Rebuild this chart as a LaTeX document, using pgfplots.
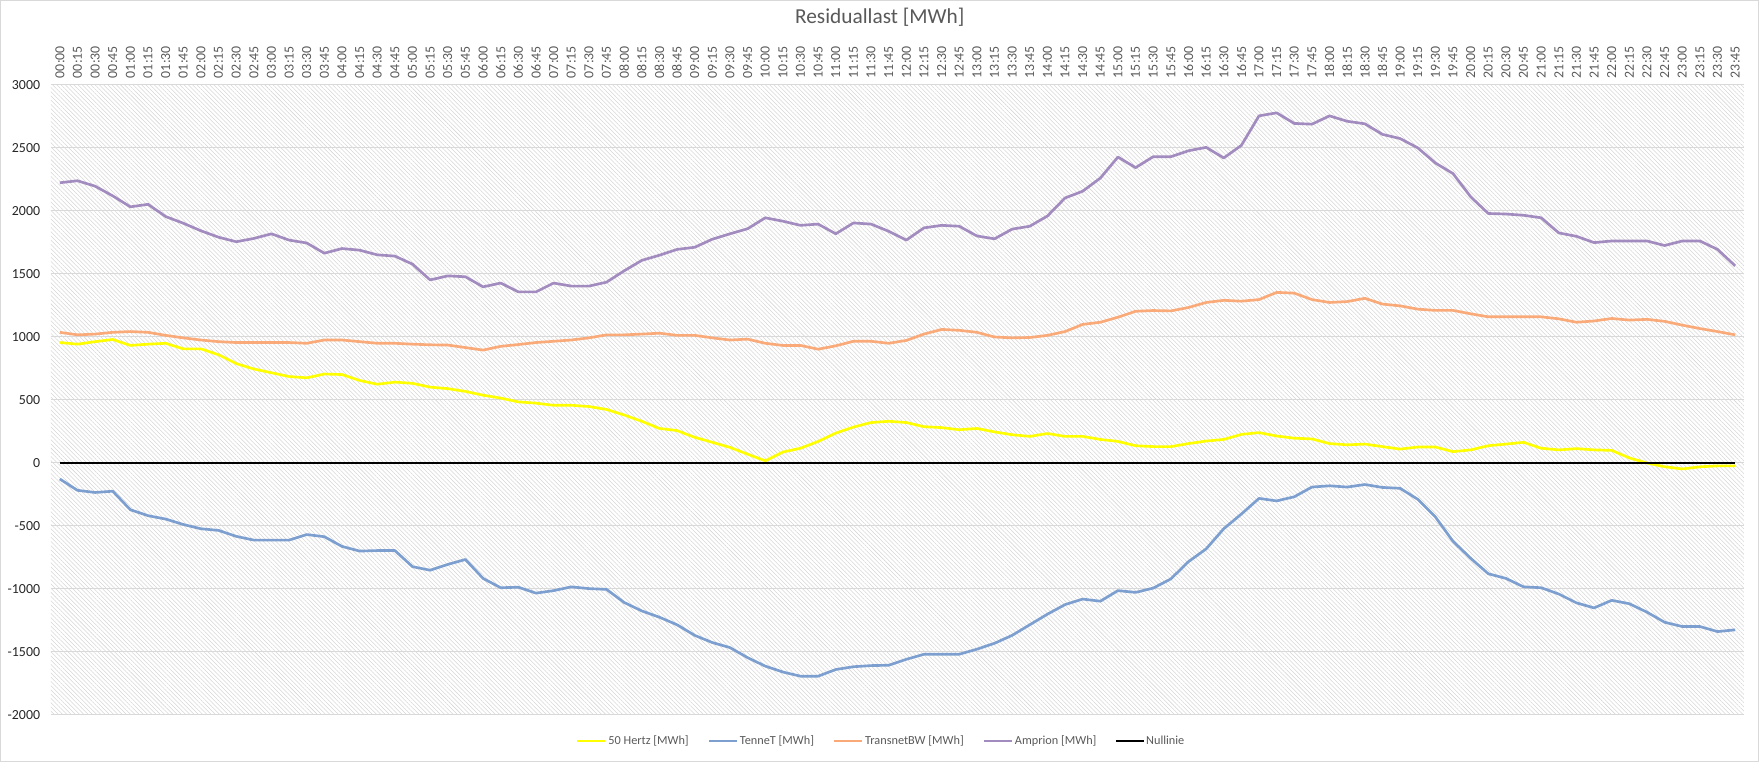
\documentclass[border=0pt]{standalone}
\usepackage{fontspec}
\setmainfont{Carlito}
\usepackage{pgfplots}
\pgfplotsset{compat=1.18}
\usepackage{pgfplotstable}
\usetikzlibrary{patterns.meta}
\definecolor{hertz}{RGB}{255,255,0}
\definecolor{tennet}{RGB}{124,159,208}
\definecolor{transnet}{RGB}{250,170,120}
\definecolor{amprion}{RGB}{162,139,190}
\definecolor{txt}{RGB}{89,89,89}
\definecolor{gridc}{RGB}{217,217,217}

\pgfplotstableread{
i h t tb a
0 956 -127 1037 2224
1 943 -217 1017 2240
2 963 -234 1023 2197
3 980 -224 1037 2120
4 933 -371 1043 2033
5 943 -418 1037 2053
6 950 -445 1013 1956
7 906 -488 993 1903
8 906 -522 976 1843
9 859 -535 963 1792
10 789 -582 956 1756
11 746 -612 956 1782
12 716 -612 956 1819
13 686 -612 956 1769
14 676 -568 950 1746
15 706 -585 976 1665
16 702 -662 976 1702
17 655 -699 963 1689
18 625 -695 950 1652
19 642 -695 950 1642
20 632 -823 943 1578
21 602 -851 938 1453
22 590 -805 936 1485
23 568 -766 916 1478
24 538 -916 896 1398
25 515 -990 926 1428
26 485 -986 940 1358
27 475 -1033 956 1358
28 458 -1013 966 1428
29 458 -983 976 1404
30 448 -997 993 1404
31 425 -1003 1017 1435
32 381 -1107 1017 1525
33 331 -1174 1023 1608
34 274 -1224 1030 1649
35 257 -1284 1013 1695
36 204 -1368 1013 1712
37 164 -1425 993 1776
38 124 -1465 976 1819
39 70 -1545 983 1859
40 17 -1612 950 1946
41 87 -1659 933 1919
42 117 -1692 933 1886
43 171 -1692 903 1896
44 237 -1639 930 1819
45 285 -1617 966 1905
46 321 -1608 966 1896
47 331 -1605 950 1839
48 321 -1558 973 1769
49 288 -1518 1023 1866
50 281 -1518 1060 1886
51 264 -1518 1053 1879
52 274 -1478 1037 1802
53 247 -1431 1000 1779
54 224 -1368 993 1856
55 211 -1284 996 1879
56 234 -1200 1013 1960
57 211 -1124 1043 2103
58 211 -1080 1100 2157
59 187 -1097 1117 2261
60 171 -1013 1157 2428
61 137 -1027 1204 2344
62 130 -993 1210 2431
63 130 -920 1207 2431
64 154 -783 1234 2478
65 174 -682 1274 2505
66 187 -522 1291 2421
67 227 -405 1284 2521
68 241 -281 1297 2755
69 214 -301 1354 2779
70 197 -268 1348 2695
71 191 -191 1297 2689
72 154 -181 1274 2755
73 144 -191 1281 2712
74 150 -171 1307 2692
75 130 -194 1261 2608
76 110 -201 1247 2575
77 127 -288 1221 2501
78 127 -428 1211 2381
79 90 -622 1211 2297
80 104 -756 1184 2113
81 137 -879 1160 1980
82 150 -916 1160 1976
83 164 -983 1160 1966
84 117 -990 1160 1946
85 104 -1040 1144 1826
86 114 -1110 1117 1799
87 104 -1150 1127 1749
88 100 -1090 1147 1762
89 40 -1117 1134 1762
90 0 -1184 1140 1762
91 -30 -1264 1124 1726
92 -47 -1298 1094 1762
93 -30 -1298 1067 1762
94 -23 -1338 1043 1695
95 -23 -1324 1017 1565
}\data

\begin{document}
\begin{tikzpicture}
\begin{axis}[
  at={(0,0)}, anchor=south west,
  scale only axis, width=1269.75pt, height=472.5pt,
  xmin=-0.5, xmax=95.5, ymin=-2000, ymax=3000,
  xtick={0,...,95},
  xticklabels={00:00,00:15,00:30,00:45,01:00,01:15,01:30,01:45,02:00,02:15,02:30,02:45,03:00,03:15,03:30,03:45,04:00,04:15,04:30,04:45,05:00,05:15,05:30,05:45,06:00,06:15,06:30,06:45,07:00,07:15,07:30,07:45,08:00,08:15,08:30,08:45,09:00,09:15,09:30,09:45,10:00,10:15,10:30,10:45,11:00,11:15,11:30,11:45,12:00,12:15,12:30,12:45,13:00,13:15,13:30,13:45,14:00,14:15,14:30,14:45,15:00,15:15,15:30,15:45,16:00,16:15,16:30,16:45,17:00,17:15,17:30,17:45,18:00,18:15,18:30,18:45,19:00,19:15,19:30,19:45,20:00,20:15,20:30,20:45,21:00,21:15,21:30,21:45,22:00,22:15,22:30,22:45,23:00,23:15,23:30,23:45},
  xticklabel pos=upper,
  ytick={-2000,-1500,...,3000},
  yticklabels={-2000,-1500,-1000,-500,0,500,1000,1500,2000,2500,3000},
  ymajorgrids, grid style={draw=gridc, line width=0.75pt},
  axis line style={draw=none},
  major tick length=0pt,
  xticklabel style={rotate=90, anchor=west, font=\fontsize{10.4}{12}\selectfont, text=txt, inner xsep=5pt, inner ysep=0pt},
  yticklabel style={anchor=east, font=\fontsize{10.4}{12}\selectfont, text=black!85, inner xsep=8pt},
  axis background/.style={pattern={Lines[angle=-45, distance=2.25pt, line width=0.4pt]}, pattern color=black!16},
  title={Residuallast [MWh]},
  title style={at={(axis description cs:0.4895,1.0952)}, anchor=center, font=\fontsize{16}{19}\selectfont, text=txt},
  legend columns=5,
  legend style={at={(axis description cs:0.4903,-0.0413)}, anchor=center, draw=none, fill=none,
    font=\fontsize{9.2}{11}\selectfont, text=txt,
    /tikz/every even column/.append style={column sep=13pt},
    nodes={inner xsep=1.2pt, inner ysep=1pt}},
  legend image code/.code={\draw[#1] (0pt,0pt) -- (21pt,0pt);},
  every axis plot/.append style={line join=round, no markers},
]
\addplot[hertz, line width=2pt] table[x=i,y=h]{\data};
\addplot[tennet, line width=2pt] table[x=i,y=t]{\data};
\addplot[transnet, line width=2pt] table[x=i,y=tb]{\data};
\addplot[amprion, line width=2pt] table[x=i,y=a]{\data};
\addplot[black, line width=0.9pt] coordinates {(0,0) (95,0)};
\legend{50 Hertz [MWh],TenneT [MWh],TransnetBW [MWh],Amprion [MWh],Nullinie}
\end{axis}
\pgfresetboundingbox
\path[use as bounding box] (-38.25pt,-35.25pt) rectangle (1281pt,536.25pt);
\draw[gridc, line width=0.75pt] (-37.875pt,-34.875pt) rectangle (1280.625pt,535.875pt);
\end{tikzpicture}
\end{document}
